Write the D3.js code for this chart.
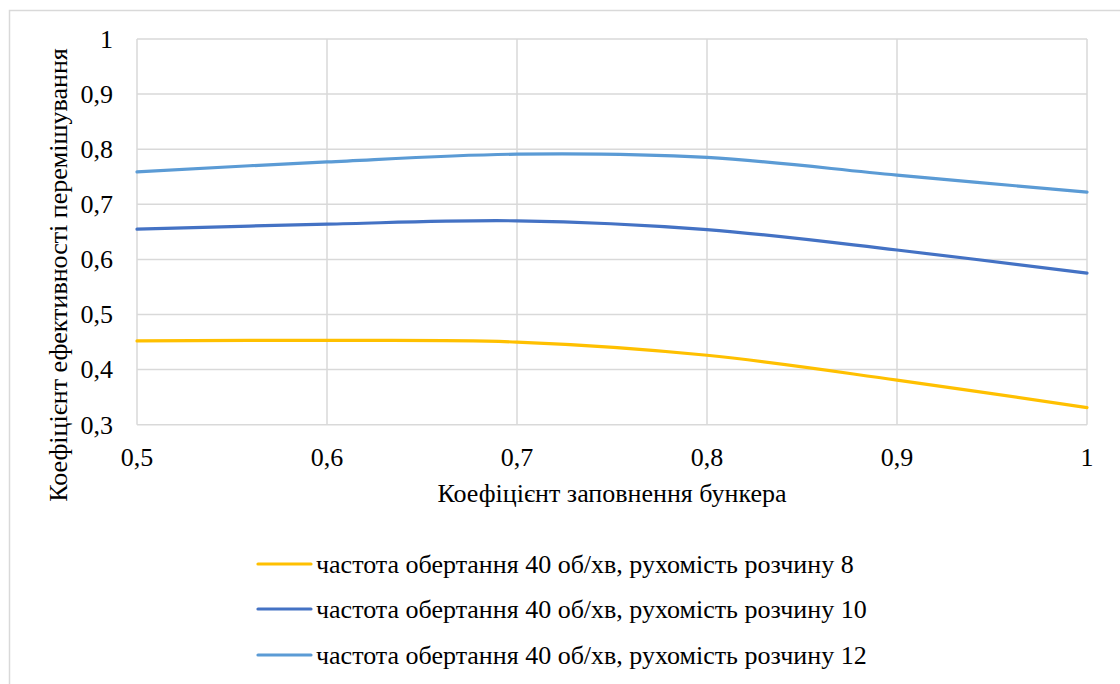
<!DOCTYPE html>
<html>
<head>
<meta charset="utf-8">
<script src="https://cdn.jsdelivr.net/npm/d3@7"></script>
<style>
  body { margin: 0; background: #fff; }
</style>
</head>
<body>
<svg id="chart" width="1120" height="684"></svg>
<script>
// x values: filling coefficient of the hopper
const fill = [0.5, 0.6, 0.7, 0.8, 0.9, 1.0];
const yTicks = [0.3, 0.4, 0.5, 0.6, 0.7, 0.8, 0.9, 1];

// mixing efficiency per series
const mob8 = [0.452, 0.453, 0.450, 0.426, 0.381, 0.331];
const mob10 = [0.655, 0.664, 0.670, 0.654, 0.617, 0.575];
const mob12 = [0.759, 0.777, 0.791, 0.785, 0.753, 0.722];

const seriesNames = [
  "частота обертання 40 об/хв, рухомість розчину 8",
  "частота обертання 40 об/хв, рухомість розчину 10",
  "частота обертання 40 об/хв, рухомість розчину 12",
];
const colors = ["#ffc000", "#4472c4", "#5b9bd5"];

const xTitle = "Коефіцієнт заповнення бункера";
const yTitle = "Коефіцієнт ефективності перемішування";

const fmt = (v) => String(v).replace(".", ",");
const FONT = "'Liberation Serif'";

const svg = d3.select("#chart");

// chart frame
svg.append("rect")
  .attr("x", 9.5).attr("y", 10.5)
  .attr("width", 1130).attr("height", 700)
  .attr("fill", "none")
  .attr("stroke", "#d9d9d9")
  .attr("stroke-width", 1.5);

const margin = { left: 137, top: 39, right: 1087, bottom: 424.7 };

const x = d3.scaleLinear().domain([0.5, 1]).range([margin.left, margin.right]);
const y = d3.scaleLinear().domain([0.3, 1]).range([margin.bottom, margin.top]);

const g = svg.append("g");

// gridlines
g.selectAll("line.hgrid")
  .data(yTicks)
  .join("line")
  .attr("class", "hgrid")
  .attr("x1", margin.left).attr("x2", margin.right)
  .attr("y1", (d) => y(d)).attr("y2", (d) => y(d))
  .attr("stroke", "#d9d9d9")
  .attr("stroke-width", 1.5);

g.selectAll("line.vgrid")
  .data(fill)
  .join("line")
  .attr("class", "vgrid")
  .attr("y1", margin.top).attr("y2", margin.bottom)
  .attr("x1", (d) => x(d)).attr("x2", (d) => x(d))
  .attr("stroke", "#d9d9d9")
  .attr("stroke-width", 1.5);

// tick labels
g.selectAll("text.ytick")
  .data(yTicks)
  .join("text")
  .attr("class", "ytick")
  .attr("x", 113)
  .attr("y", (d) => y(d))
  .attr("dy", "0.34em")
  .attr("text-anchor", "end")
  .style("font-family", FONT)
  .style("font-size", "26px")
  .text(fmt);

g.selectAll("text.xtick")
  .data(fill)
  .join("text")
  .attr("class", "xtick")
  .attr("x", (d) => x(d))
  .attr("y", 466)
  .attr("text-anchor", "middle")
  .style("font-family", FONT)
  .style("font-size", "26px")
  .text(fmt);

// axis titles
svg.append("text")
  .attr("x", 612)
  .attr("y", 502)
  .attr("text-anchor", "middle")
  .style("font-family", FONT)
  .style("font-size", "26px")
  .text(xTitle);

svg.append("text")
  .attr("transform", "translate(67,275) rotate(-90)")
  .attr("text-anchor", "middle")
  .style("font-family", FONT)
  .style("font-size", "26px")
  .text(yTitle);

// lines
const line = d3.line()
  .x((d, i) => x(fill[i]))
  .y((d) => y(d))
  .curve(d3.curveCatmullRom.alpha(0));

[mob8, mob10, mob12].forEach((vals, i) => {
  g.append("path")
    .datum(vals)
    .attr("fill", "none")
    .attr("stroke", colors[i])
    .attr("stroke-width", 3.2)
    .attr("stroke-linecap", "round")
    .attr("d", line);
});

// legend
const legend = svg.append("g");
const legY = [564, 609, 655];
seriesNames.forEach((name, i) => {
  legend.append("line")
    .attr("x1", 258).attr("x2", 311)
    .attr("y1", legY[i]).attr("y2", legY[i])
    .attr("stroke", colors[i])
    .attr("stroke-width", 3.2)
    .attr("stroke-linecap", "round");
  legend.append("text")
    .attr("x", 316)
    .attr("y", legY[i])
    .attr("dy", "0.33em")
    .style("font-family", FONT)
    .style("font-size", "26px")
    .text(name);
});
</script>
</body>
</html>
